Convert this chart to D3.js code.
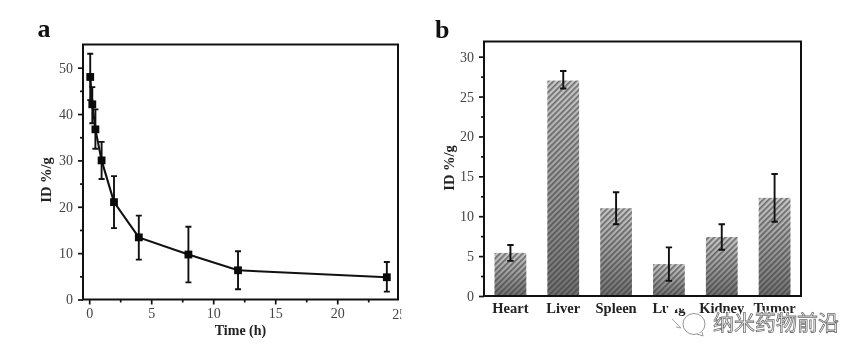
<!DOCTYPE html>
<html>
<head>
<meta charset="utf-8">
<script src="https://cdn.jsdelivr.net/npm/d3@7/dist/d3.min.js"></script>
<style>
  html, body { margin: 0; padding: 0; background: #fff; }
  svg { display: block; filter: blur(0.4px); }
  text { font-family: "Liberation Serif", serif; }
</style>
</head>
<body>
<div id="vis"></div>
<script>
// panel a: blood circulation
const times = [0.083, 0.25, 0.5, 1, 2, 4, 8, 12, 24];
const idValues = [48, 42.1, 36.7, 30, 21, 13.4, 9.7, 6.3, 4.8];
const idUpper = [53, 45.8, 41, 34, 26.6, 18.1, 15.7, 10.4, 8.1];
const idLower = [43, 38, 32.5, 26, 15.4, 8.6, 3.7, 2.2, 1.7];
const timeTicks = [0, 5, 10, 15, 20, 25];

// panel b: biodistribution
const organs = ['Heart', 'Liver', 'Spleen', 'Lung', 'Kidney', 'Tumor'];
const organValues = [5.4, 27, 11, 4, 7.4, 12.3];
const organUpper = [6.4, 28.2, 13, 6.1, 9, 15.3];
const organLower = [4.4, 26, 9, 1.9, 5.8, 9.3];

const svg = d3.select('#vis')
  .append('svg')
  .attr('width', 865)
  .attr('height', 359);

const defs = svg.append('defs');

const grad = defs.append('linearGradient')
  .attr('id', 'barGrad')
  .attr('x1', 0).attr('y1', 0).attr('x2', 0).attr('y2', 1);
grad.append('stop').attr('offset', '0%').attr('stop-color', '#c8c8c8');
grad.append('stop').attr('offset', '100%').attr('stop-color', '#707070');

const hatch = defs.append('pattern')
  .attr('id', 'barHatch')
  .attr('patternUnits', 'userSpaceOnUse')
  .attr('width', 4)
  .attr('height', 4)
  .attr('patternTransform', 'rotate(45)');
hatch.append('rect')
  .attr('width', 1.7)
  .attr('height', 4)
  .attr('fill', '#333')
  .attr('fill-opacity', 0.6);

// clip for panel a labels, the last tick label is cut in the source image
defs.append('clipPath').attr('id', 'cutRight')
  .append('rect')
  .attr('x', 0).attr('y', 0).attr('width', 401.5).attr('height', 359);

function styleAxis(g) {
  g.selectAll('.domain').remove();
  g.selectAll('line').attr('stroke', '#111').attr('stroke-width', 1.7);
  g.selectAll('text')
    .attr('fill', '#444')
    .style('font-size', '14px');
}

/**
 * panel a, line with error bars
 */
function drawLine() {
  const frame = {left: 83, right: 398, top: 44.5, bottom: 299.5};

  const x = d3.scaleLinear()
    .domain([-0.5, 24.9])
    .range([frame.left, frame.right]);
  const y = d3.scaleLinear()
    .domain([0, 55])
    .range([frame.bottom, frame.top]);

  const g = svg.append('g');

  g.append('g')
    .attr('transform', 'translate(0,' + frame.bottom + ')')
    .call(d3.axisBottom(x).tickValues(d3.range(2.5, 25, 5)).tickSize(3).tickFormat(() => ''))
    .call(styleAxis);

  const bottom = g.append('g')
    .attr('clip-path', 'url(#cutRight)')
    .append('g')
    .attr('transform', 'translate(0,' + frame.bottom + ')')
    .call(d3.axisBottom(x).tickValues(timeTicks.slice(0, 5)).tickSize(5).tickPadding(4))
    .call(styleAxis);
  bottom.append('text')
    .attr('x', x(timeTicks[5]))
    .attr('y', 19)
    .attr('text-anchor', 'middle')
    .text(timeTicks[5])
    .attr('fill', '#444')
    .style('font-size', '14px');

  g.append('g')
    .attr('transform', 'translate(' + frame.left + ',0)')
    .call(d3.axisLeft(y).tickValues(d3.range(5, 55, 10)).tickSize(3).tickFormat(() => ''))
    .call(styleAxis);
  g.append('g')
    .attr('transform', 'translate(' + frame.left + ',0)')
    .call(d3.axisLeft(y).tickValues(d3.range(0, 51, 10)).tickSize(5).tickPadding(5))
    .call(styleAxis);

  g.append('rect')
    .attr('x', frame.left)
    .attr('y', frame.top)
    .attr('width', frame.right - frame.left)
    .attr('height', frame.bottom - frame.top)
    .attr('fill', 'none')
    .attr('stroke', '#111')
    .attr('stroke-width', 2);

  const line = d3.line()
    .x(function(d) { return x(d[0]); })
    .y(function(d) { return y(d[1]); });
  g.append('path')
    .datum(d3.zip(times, idValues))
    .attr('d', line)
    .attr('fill', 'none')
    .attr('stroke', '#111')
    .attr('stroke-width', 2.1);

  times.forEach((t, i) => {
    const cx = x(t);
    drawError(g, cx, y(idUpper[i]), y(idLower[i]), 3);
    g.append('rect')
      .attr('x', cx - 3.9)
      .attr('y', y(idValues[i]) - 3.9)
      .attr('width', 7.8)
      .attr('height', 7.8)
      .attr('fill', '#0a0a0a');
  });

  g.append('text')
    .attr('x', x(12.2))
    .attr('y', 335)
    .attr('text-anchor', 'middle')
    .attr('font-weight', 'bold')
    .attr('fill', '#222')
    .style('font-size', '14px')
    .text('Time (h)');

  g.append('text')
    .attr('transform', 'translate(51,180)rotate(-90)')
    .attr('text-anchor', 'middle')
    .attr('font-weight', 'bold')
    .attr('fill', '#222')
    .style('font-size', '14.5px')
    .text('ID %/g');

  g.append('text')
    .attr('x', 37.5)
    .attr('y', 37)
    .attr('font-weight', 'bold')
    .attr('fill', '#111')
    .style('font-size', '26px')
    .text('a');
}

/**
 * panel b, bars with error bars
 */
function drawBars() {
  const frame = {left: 484, right: 801, top: 41.5, bottom: 296};

  const x = d3.scaleBand()
    .domain(organs)
    .range([frame.left, frame.right])
    .paddingInner(0.4)
    .paddingOuter(0.2);
  const y = d3.scaleLinear()
    .domain([0, 31.9])
    .range([frame.bottom, frame.top]);

  const g = svg.append('g');

  g.selectAll('rect.bar')
    .data(organValues)
    .enter()
    .append('rect')
    .attr('class', 'bar')
    .attr('x', (d, i) => x(organs[i]))
    .attr('y', (d) => y(d))
    .attr('width', x.bandwidth())
    .attr('height', (d) => y(0) - y(d))
    .attr('fill', 'url(#barGrad)');
  g.selectAll('rect.hatch')
    .data(organValues)
    .enter()
    .append('rect')
    .attr('class', 'hatch')
    .attr('x', (d, i) => x(organs[i]))
    .attr('y', (d) => y(d))
    .attr('width', x.bandwidth())
    .attr('height', (d) => y(0) - y(d))
    .attr('fill', 'url(#barHatch)');

  g.append('g')
    .attr('transform', 'translate(' + frame.left + ',0)')
    .call(d3.axisLeft(y).tickValues(d3.range(2.5, 32, 5)).tickSize(3).tickFormat(() => ''))
    .call(styleAxis);
  g.append('g')
    .attr('transform', 'translate(' + frame.left + ',0)')
    .call(d3.axisLeft(y).tickValues(d3.range(0, 31, 5)).tickSize(5).tickPadding(5))
    .call(styleAxis);

  const bottom = g.append('g')
    .attr('transform', 'translate(0,' + frame.bottom + ')')
    .call(d3.axisBottom(x).tickSize(0).tickPadding(7))
    .call(styleAxis);
  bottom.selectAll('text')
    .attr('font-weight', 'bold')
    .attr('fill', '#222')
    .style('font-size', '14.5px');

  g.append('rect')
    .attr('x', frame.left)
    .attr('y', frame.top)
    .attr('width', frame.right - frame.left)
    .attr('height', frame.bottom - frame.top)
    .attr('fill', 'none')
    .attr('stroke', '#111')
    .attr('stroke-width', 2);

  organs.forEach((o, i) => {
    drawError(g, x(o) + x.bandwidth() / 2, y(organUpper[i]), y(organLower[i]), 3.2);
  });

  g.append('text')
    .attr('transform', 'translate(454,168)rotate(-90)')
    .attr('text-anchor', 'middle')
    .attr('font-weight', 'bold')
    .attr('fill', '#222')
    .style('font-size', '14.5px')
    .text('ID %/g');

  g.append('text')
    .attr('x', 435)
    .attr('y', 38)
    .attr('font-weight', 'bold')
    .attr('fill', '#111')
    .style('font-size', '26px')
    .text('b');
}

function drawError(g, cx, top, low, cap) {
  const path = 'M' + (cx - cap) + ',' + top + 'H' + (cx + cap) +
    'M' + cx + ',' + top + 'V' + low +
    'M' + (cx - cap) + ',' + low + 'H' + (cx + cap);
  g.append('path')
    .attr('d', path)
    .attr('fill', 'none')
    .attr('stroke', '#111')
    .attr('stroke-width', 1.9);
}

/**
 * wechat style watermark over the corner of panel b
 */
function drawWatermark() {
  const g = svg.append('g');

  // white halo first, it eats the lower part of the organ labels like in the source
  g.append('text')
    .attr('x', 713)
    .attr('y', 330)
    .style('font-family', '"Noto Sans CJK SC", sans-serif')
    .style('font-size', '21px')
    .attr('fill', '#fff')
    .attr('stroke', '#fff')
    .attr('stroke-width', 3)
    .text('纳米药物前沿');
  g.append('text')
    .attr('x', 713)
    .attr('y', 330)
    .style('font-family', '"Noto Sans CJK SC", sans-serif')
    .style('font-size', '21px')
    .attr('fill', '#fff')
    .attr('stroke', '#6f6f6f')
    .attr('stroke-width', 0.8)
    .text('纳米药物前沿');

  // small back bubble and its tail
  g.append('path')
    .attr('d', 'M672,325 L678,322 A10,9 0 1 1 690,315')
    .attr('fill', 'none')
    .attr('stroke', '#fff')
    .attr('stroke-width', 8);
  g.append('path')
    .attr('d', 'M672,319 L681,328 L676,327')
    .attr('fill', 'none')
    .attr('stroke', '#999')
    .attr('stroke-width', 0.9);
  // front bubble
  g.append('ellipse')
    .attr('cx', 694).attr('cy', 324).attr('rx', 11).attr('ry', 10.5)
    .attr('fill', '#fff').attr('stroke', '#8a8a8a').attr('stroke-width', 0.9);
  g.append('path')
    .attr('d', 'M697,334 L703,336 L702,332')
    .attr('fill', '#fff')
    .attr('stroke', '#8a8a8a')
    .attr('stroke-width', 0.9);
}

drawLine();
drawBars();
drawWatermark();
</script>
</body>
</html>
